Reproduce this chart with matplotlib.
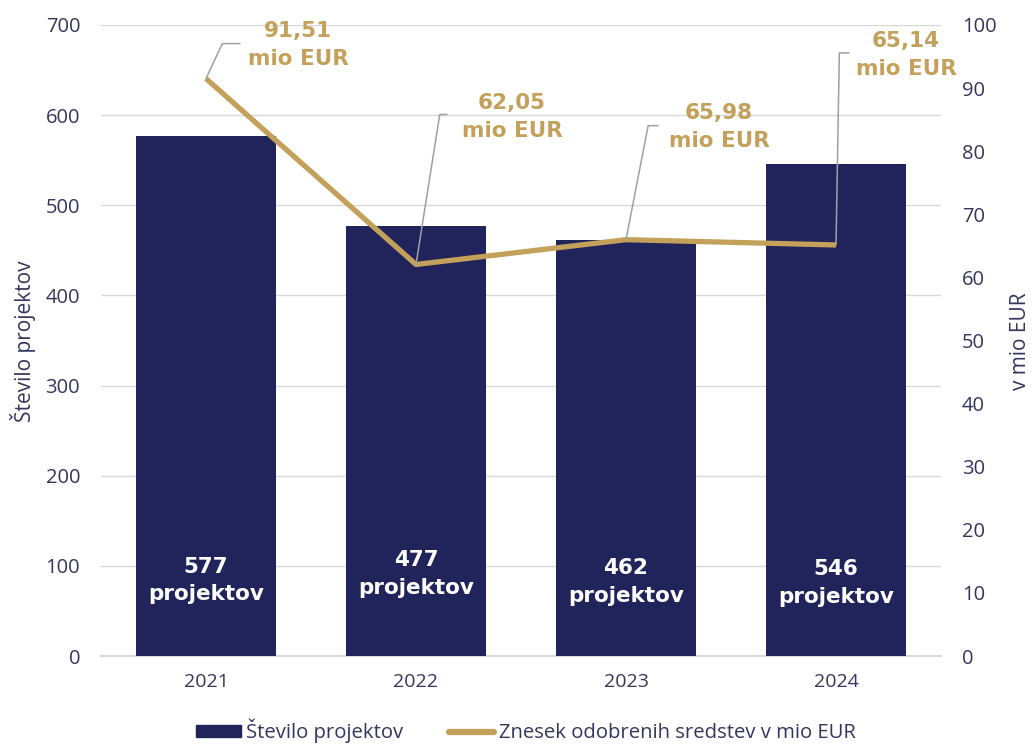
import matplotlib
matplotlib.use("Agg")
import matplotlib.pyplot as plt
from matplotlib.patches import Patch
from matplotlib.lines import Line2D
import numpy as np

years = ["2021", "2022", "2023", "2024"]
projects = [577, 477, 462, 546]
amounts = [91.51, 62.05, 65.98, 65.14]
amount_labels = ["91,51\nmio EUR", "62,05\nmio EUR", "65,98\nmio EUR", "65,14\nmio EUR"]
bar_labels = ["577\nprojektov", "477\nprojektov", "462\nprojektov", "546\nprojektov"]

NAVY = "#20245a"
GOLD = "#c4a15a"
TXT = "#33365d"
GRID = "#d9d9d9"

plt.rcParams['font.family'] = ['Open Sans', 'DejaVu Sans']

fig = plt.figure(figsize=(10.32, 7.44), dpi=100)
ax = fig.add_axes([101/1032, 88/744, 840/1032, 631/744])
ax2 = ax.twinx()

x = np.arange(len(years))
ax.bar(x, projects, width=0.667, color=NAVY, zorder=2)
ax.set_xlim(-0.5, 3.5)
ax.set_ylim(0, 700)
ax.set_yticks(range(0, 701, 100))
ax.yaxis.grid(True, color=GRID, lw=1, zorder=0)
ax.axhline(0, color=GRID, lw=1.5, clip_on=False, zorder=1)
ax.set_axisbelow(True)
ax.set_xticks(x)
ax.set_xticklabels(years)
for s in ax.spines.values():
    s.set_visible(False)
for s in ax2.spines.values():
    s.set_visible(False)
ax.tick_params(axis='y', length=0, pad=15, labelsize=14.5, labelcolor=TXT)
ax.tick_params(axis='x', length=0, pad=12, labelsize=14, labelcolor=TXT)

# bar labels
label_y = [84, 91, 82, 81]
for xi, lab, ly in zip(x, bar_labels, label_y):
    ax.text(xi, ly, lab, ha='center', va='center', color='white',
            fontsize=15.5, fontweight='bold', linespacing=1.45, zorder=3,
            family='DejaVu Sans')

ax2.plot(x, amounts, color=GOLD, lw=3.8, solid_capstyle='butt', zorder=4)
ax2.set_ylim(0, 100)
ax2.set_yticks(range(0, 101, 10))
ax2.tick_params(axis='y', length=0, pad=15, labelsize=14.5, labelcolor=TXT)

# leader lines (offset pixels of leader end, angle) and text offsets
leader_off = [(34, 35), (31, 150), (32, 114), (13, 192)]
leader_ang = [65, 81, 79, 89]
text_off = [(92, 34), (96, 147), (93, 113), (70, 190)]
for xi, val, lab, lo, ang, to in zip(x, amounts, amount_labels, leader_off, leader_ang, text_off):
    ax2.annotate('', xy=(xi, val), xytext=lo, textcoords='offset pixels',
                 arrowprops=dict(arrowstyle='-', color='#a0a0a0', lw=1.1,
                                 connectionstyle='angle,angleA=0,angleB=%d,rad=0' % ang,
                                 shrinkA=0, shrinkB=0), zorder=5)
    ax2.annotate(lab, xy=(xi, val), xytext=to, textcoords='offset pixels',
                 ha='center', va='center', color=GOLD, fontsize=15.5,
                 fontweight='bold', linespacing=1.5, zorder=6,
                 family='DejaVu Sans')

fig.text(23/1032, 1 - 341/744, "Število projektov", rotation=90, ha='center', va='center',
         fontsize=15, color=TXT)
fig.text(1020/1032, 1 - 341/744, "v mio EUR", rotation=90, ha='center', va='center',
         fontsize=15, color=TXT)

handles = [Patch(facecolor=NAVY, edgecolor=NAVY),
           Line2D([0], [0], color=GOLD, lw=4.5, solid_capstyle='round')]
fig.legend(handles, ["Število projektov", "Znesek odobrenih sredstev v mio EUR"],
           loc='center', bbox_to_anchor=(526/1032, 13/744), ncol=2, frameon=False,
           fontsize=14.6, labelcolor=TXT, handlelength=2.2, handletextpad=0.25,
           columnspacing=2.3, handleheight=0.55, borderpad=0)

fig.savefig("out.png", dpi=100)
